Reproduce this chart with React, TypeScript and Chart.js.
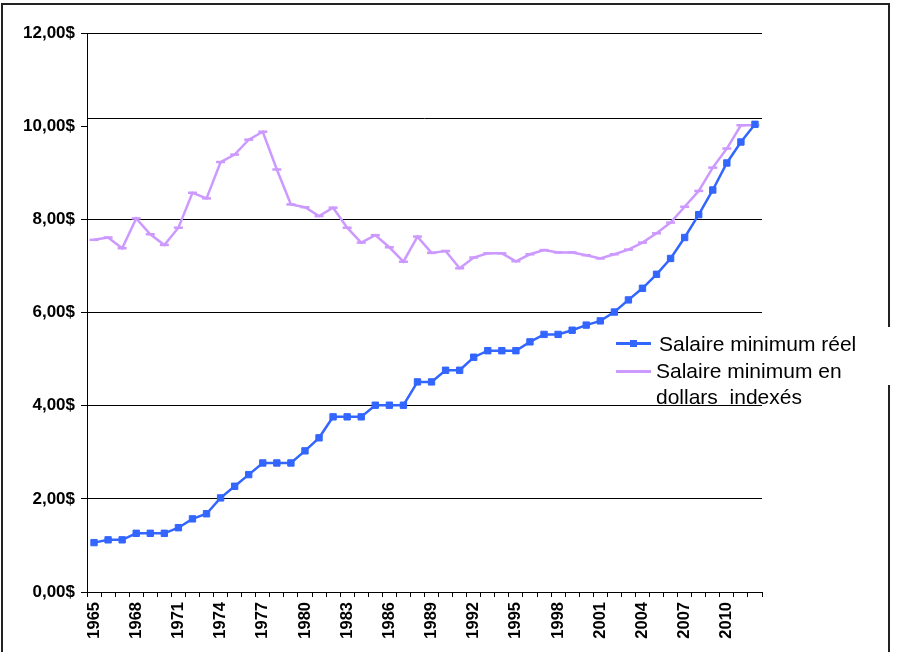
import { useEffect, useRef } from 'react';
import { Chart, registerables } from 'chart.js';
Chart.register(...registerables);

const years = [
  '1965', '1966', '1967', '1968', '1969', '1970', '1971', '1972', '1973', '1974',
  '1975', '1976', '1977', '1978', '1979', '1980', '1981', '1982', '1983', '1984',
  '1985', '1986', '1987', '1988', '1989', '1990', '1991', '1992', '1993', '1994',
  '1995', '1996', '1997', '1998', '1999', '2000', '2001', '2002', '2003', '2004',
  '2005', '2006', '2007', '2008', '2009', '2010', '2011', '2012',
];
const shownYearLabels = [
  '1965', '1968', '1971', '1974', '1977', '1980', '1983', '1986', '1989', '1992',
  '1995', '1998', '2001', '2004', '2007', '2010',
];
const salaireReel = [
  1.06, 1.12, 1.12, 1.26, 1.26, 1.26, 1.38, 1.57, 1.68, 2.02,
  2.27, 2.52, 2.77, 2.77, 2.77, 3.03, 3.31, 3.76, 3.76, 3.76,
  4.01, 4.01, 4.01, 4.51, 4.51, 4.76, 4.76, 5.04, 5.18, 5.18,
  5.18, 5.37, 5.53, 5.53, 5.62, 5.73, 5.82, 6.01, 6.27, 6.52,
  6.82, 7.16, 7.61, 8.1, 8.63, 9.21, 9.66, 10.04,
];
const salaireIndexe = [
  7.56, 7.61, 7.38, 8.02, 7.68, 7.45, 7.82, 8.57, 8.45, 9.23,
  9.39, 9.71, 9.88, 9.07, 8.32, 8.26, 8.07, 8.25, 7.82, 7.5,
  7.66, 7.4, 7.09, 7.63, 7.28, 7.32, 6.95, 7.18, 7.27, 7.27,
  7.1, 7.25, 7.34, 7.29, 7.29, 7.23, 7.16, 7.25, 7.35, 7.5,
  7.7, 7.93, 8.27, 8.61, 9.11, 9.52, 10.02, 10.02,
];
const seriesNames = ['Salaire minimum réel', 'Salaire minimum en', 'dollars  indexés'];

const BLUE = '#3366FF';
const PURPLE = '#CC99FF';
const FONT = '"Liberation Sans", Arial, sans-serif';

const shiftedTenLine = {
  id: 'shiftedTenLine',
  beforeDatasetsDraw(chart: any) {
    const { ctx, chartArea, scales } = chart;
    const y = Math.round(scales.y.getPixelForValue(10.17)) + 0.5;
    ctx.save();
    ctx.strokeStyle = '#000';
    ctx.lineWidth = 1;
    ctx.beginPath();
    ctx.moveTo(chartArea.left, y);
    ctx.lineTo(chartArea.right, y);
    ctx.stroke();
    ctx.restore();
  },
};

export default function App() {
  const ref = useRef<HTMLCanvasElement | null>(null);
  useEffect(() => {
    if (!ref.current) return;
    const chart = new Chart(ref.current, {
      type: 'line',
      data: {
        labels: years,
        datasets: [
          {
            label: seriesNames[0],
            data: salaireReel,
            borderColor: BLUE,
            backgroundColor: BLUE,
            borderWidth: 2.5,
            pointStyle: 'rect',
            pointRadius: 4.5,
            pointBorderWidth: 1,
            tension: 0,
          },
          {
            label: seriesNames[1] + ' ' + seriesNames[2],
            data: salaireIndexe,
            borderColor: PURPLE,
            backgroundColor: PURPLE,
            borderWidth: 2.5,
            pointStyle: 'line',
            pointRadius: 4.5,
            pointBorderWidth: 2.5,
            tension: 0,
          },
        ],
      },
      options: {
        responsive: false,
        animation: false,
        layout: { padding: { left: 0, top: 33, right: 137, bottom: 0 } },
        plugins: { legend: { display: false }, tooltip: { enabled: false } },
        scales: {
          x: {
            type: 'category',
            offset: true,
            grid: {
              offset: true,
              drawOnChartArea: false,
              drawTicks: true,
              tickLength: 5,
              color: '#000',
            },
            border: { color: '#000', width: 1 },
            ticks: {
              autoSkip: false,
              maxRotation: 90,
              minRotation: 90,
              padding: 5,
              color: '#000',
              font: { family: FONT, size: 16.5, weight: 'bold' },
              callback: (_v: any, i: number) =>
                shownYearLabels.includes(years[i]) ? years[i] : '',
            },
            afterFit: (s: any) => {
              s.height = 60;
            },
          },
          y: {
            min: 0,
            max: 12,
            grid: {
              color: (c: any) => (c.tick && c.tick.value === 10 ? 'rgba(0,0,0,0)' : '#000'),
              tickColor: '#000',
              tickLength: 6,
              lineWidth: 1,
            },
            border: { color: '#000', width: 1 },
            ticks: {
              stepSize: 2,
              padding: 6,
              color: '#000',
              font: { family: FONT, size: 17, weight: 'bold' },
              callback: (v: any) => Number(v).toFixed(2).replace('.', ',') + '$',
            },
            afterFit: (s: any) => {
              s.width = 87;
            },
          },
        },
      },
      plugins: [shiftedTenLine],
    });
    return () => chart.destroy();
  }, []);

  const textStyle: any = {
    position: 'absolute',
    fontFamily: FONT,
    fontSize: 21,
    lineHeight: '26px',
    color: '#000',
    whiteSpace: 'pre',
  };

  return (
    <div
      style={{
        position: 'fixed',
        left: 0,
        top: 0,
        width: 899,
        height: 652,
        overflow: 'hidden',
        background: '#fff',
      }}
    >
      <canvas ref={ref} width={899} height={652} style={{ position: 'absolute', left: 0, top: 0 }} />
      <div
        style={{
          position: 'absolute',
          left: 1,
          top: 3,
          width: 885,
          height: 720,
          border: '2px solid #222',
          pointerEvents: 'none',
        }}
      />
      <div
        style={{
          position: 'absolute',
          left: 612,
          top: 327,
          width: 280,
          height: 58,
          background: '#fff',
        }}
      />
      <div style={{ position: 'absolute', left: 616, top: 342, width: 35, height: 3, background: BLUE }} />
      <div style={{ position: 'absolute', left: 630, top: 340, width: 7, height: 7, background: BLUE }} />
      <div style={{ position: 'absolute', left: 616, top: 370, width: 35, height: 3, background: PURPLE }} />
      <div style={{ ...textStyle, left: 659, top: 331 }}>{seriesNames[0]}</div>
      <div style={{ ...textStyle, left: 656, top: 358 }}>{seriesNames[1]}</div>
      <div style={{ ...textStyle, left: 656, top: 384 }}>{seriesNames[2]}</div>
    </div>
  );
}
